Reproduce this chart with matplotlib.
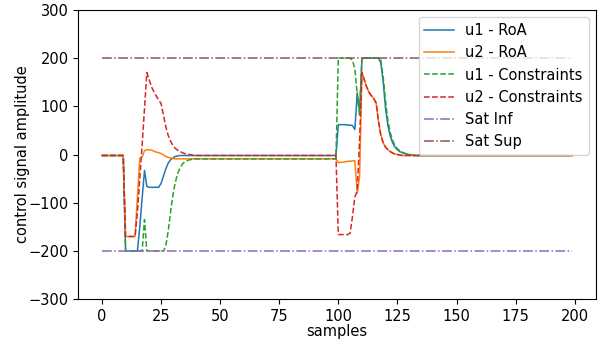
import matplotlib
matplotlib.use("Agg")
import matplotlib.pyplot as plt

# ---- data ----
u1_roa = ([-2] * 10 + [-200] * 6 +
          [-150, -90, -33, -66, -68, -68, -68, -68, -68, -60, -45, -30, -18, -11, -7, -4] +
          [-3] + [-2] * 67 +
          [62, 62, 62, 62, 61, 61, 60, 52, 128, 86] +
          [200] * 8 +
          [190, 150, 95, 60, 38, 24, 15, 10, 6, 4, 2, 1, 0, -1] +
          [-2] * 68)

u2_roa = ([-2] * 10 + [-170] * 5 + [-90] +
          [-8, -5, 8, 10, 10, 9, 7, 5, 4, 2, -1, -4, -6, -7, -8] +
          [-9] * 69 +
          [-17, -16, -16, -15, -14, -14, -13, -13, -80, -45] +
          [170, 155, 140, 129, 122, 116, 107, 69, 40, 24, 15, 10, 6, 3, 1, 0, -1] +
          [-2] * 73)

u1_con = ([-2] * 10 + [-200] * 8 + [-135] + [-200] * 8 +
          [-190, -160, -120, -85, -58, -40, -28, -20, -15, -13, -11, -10] +
          [-9] * 61 +
          [200] * 6 + [195, 178, 125, 82] + [200] * 8 +
          [195, 160, 110, 70, 45, 29, 18, 12, 8, 5, 3, 1, 0, -1] +
          [-2] * 68)

u2_con = ([-2] * 10 + [-170] * 5 + [-120, -50, 20, 95] +
          [170, 155, 140, 130, 121, 113, 106, 82, 58, 40, 28, 19, 13, 9, 6, 4, 2, 1, 0, -1] +
          [-2] * 61 +
          [-166] * 5 + [-163, -128, -88, -75, 30] +
          [170, 155, 140, 129, 122, 116, 107, 69, 40, 24, 15, 10, 6, 3, 1, 0, -1] +
          [-2] * 73)

sat_inf = [-200] * 200
sat_sup = [200] * 200

labels = ["u1 - RoA", "u2 - RoA", "u1 - Constraints", "u2 - Constraints",
          "Sat Inf", "Sat Sup"]
x_label = "samples"
y_label = "control signal amplitude"
y_ticks = [-300, -200, -100, 0, 100, 200, 300]
x_ticks = [0, 25, 50, 75, 100, 125, 150, 175, 200]

# ---- plot ----
fs = 10.5
lw = 1.1
fig = plt.figure(figsize=(6.08, 3.40), dpi=100)
ax = fig.add_axes([0.129, 0.120, 0.851, 0.851])

series = [u1_roa, u2_roa, u1_con, u2_con, sat_inf, sat_sup]
colors = ["tab:blue", "tab:orange", "tab:green", "tab:red", "tab:purple", "tab:brown"]
styles = ["-", "-", "--", "--", "-.", "-."]
for s, c, ls, lab in zip(series, colors, styles, labels):
    ax.plot(range(len(s)), s, color=c, linestyle=ls, linewidth=lw, label=lab)

ax.set_ylim(-300, 300)
ax.set_yticks(y_ticks)
ax.set_xticks(x_ticks)
ax.tick_params(labelsize=fs)
ax.set_xlabel(x_label, fontsize=fs, labelpad=0)
ax.set_ylabel(y_label, fontsize=fs, labelpad=-1)
ax.legend(loc="upper right", fontsize=fs)

fig.savefig("out.png", dpi=100)
